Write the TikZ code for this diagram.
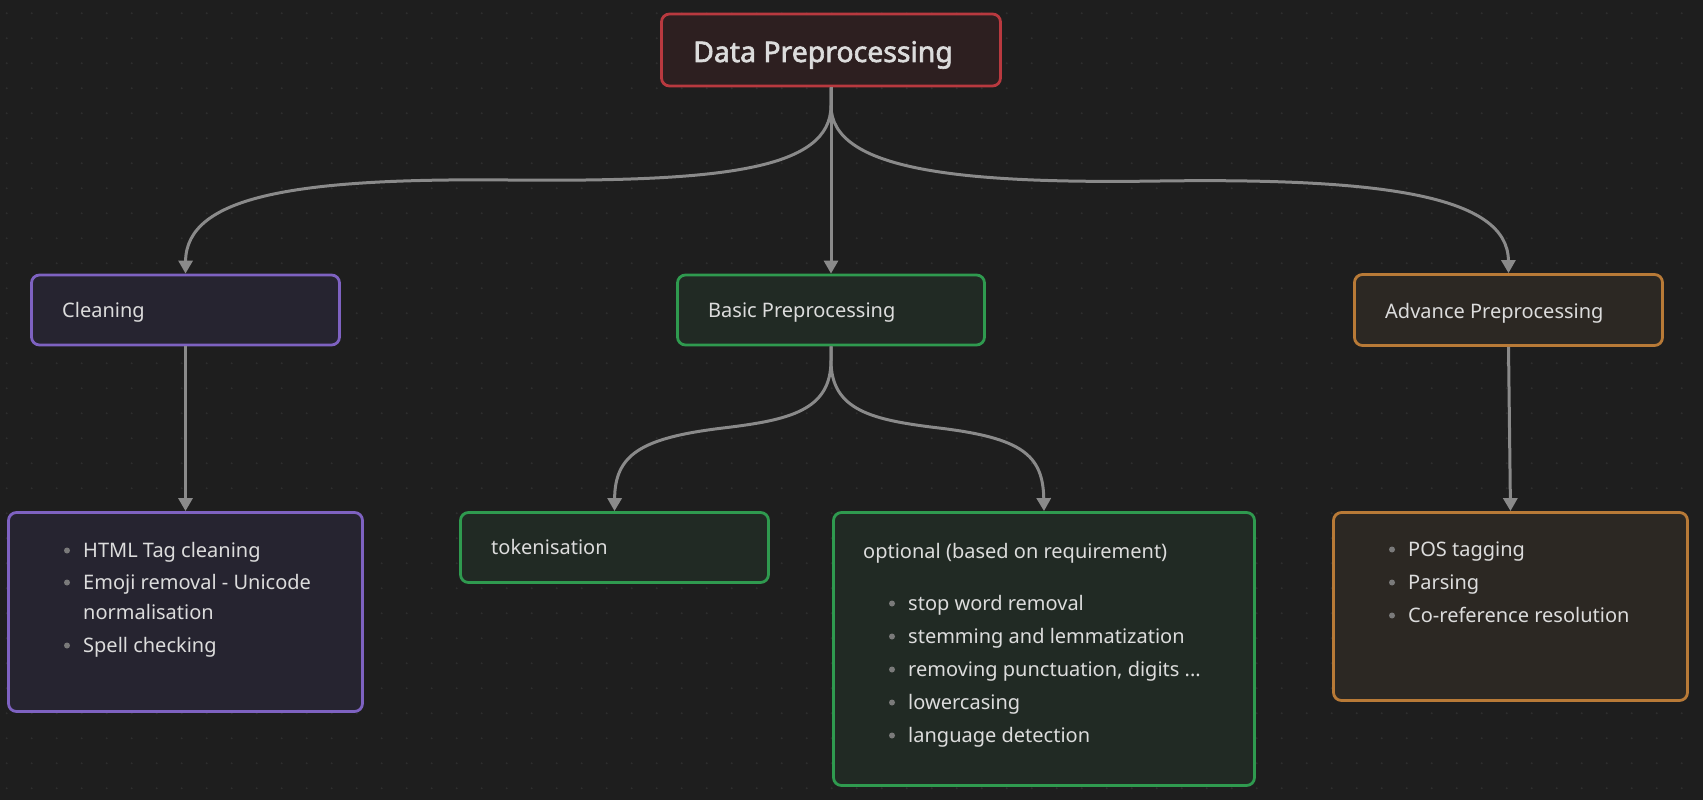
\documentclass[tikz,border=0pt]{standalone}
\usepackage{fontspec}
\setmainfont{Noto Sans}[AutoFakeBold=2.2]
\usetikzlibrary{arrows.meta}
\definecolor{bg}{HTML}{1E1E1E}
\definecolor{dotc}{HTML}{2E2E2E}
\definecolor{txtc}{HTML}{DCDCDC}
\definecolor{edgec}{HTML}{8A8A8A}
\definecolor{bulc}{HTML}{7A7A7A}
\definecolor{redS}{HTML}{B8393F}\definecolor{redF}{HTML}{2D1F20}
\definecolor{purS}{HTML}{7E62C1}\definecolor{purF}{HTML}{262430}
\definecolor{grnS}{HTML}{2F9A4F}\definecolor{grnF}{HTML}{212A24}
\definecolor{orgS}{HTML}{B87A37}\definecolor{orgF}{HTML}{2C2823}
\tikzset{
  box/.style 2 args={draw=#1, fill=#2, rounded corners=8pt, line width=2.8pt, inner sep=0pt},
  txt/.style={text=txtc, inner sep=0pt, anchor=base west, font=\fontsize{20}{24}\selectfont},
  title/.style={text=txtc, inner sep=0pt, anchor=base west, font=\fontsize{28.4}{33}\selectfont\bfseries},
  edge/.style={draw=edgec, line width=3pt, -{Triangle[width=14pt,length=13pt]}},
  bul/.style={fill=bulc, circle, inner sep=0pt, minimum size=6pt}
}
\newcommand{\bitem}[4]{%
  \node[bul] (#1b) at (#2-16,#3-6.5) {};
  \node[txt] (#1) at (#2,#3) {#4};}
\begin{document}
\begin{tikzpicture}[x=1pt,y=-1pt]
\fill[bg] (0,0) rectangle (1703,800);
\useasboundingbox (0,0) rectangle (1703,800);
\foreach \i in {0,...,67}{\foreach \j in {0,...,31}{\fill[dotc] (6.7+25*\i,13.3+25*\j) circle (1.1);}}
% boxes
\node[box={redS}{redF}, minimum width=339, minimum height=72] (dp) at (831,50) {};
\node[box={purS}{purF}, minimum width=308, minimum height=70] (cl) at (185.5,310) {};
\node[box={grnS}{grnF}, minimum width=307, minimum height=70] (bp) at (831,310) {};
\node[box={orgS}{orgF}, minimum width=308, minimum height=71] (ap) at (1508.5,310) {};
\node[box={purS}{purF}, minimum width=354, minimum height=199] (cll) at (185.5,612) {};
\node[box={grnS}{grnF}, minimum width=308, minimum height=70] (tok) at (614.5,547.5) {};
\node[box={grnS}{grnF}, minimum width=421, minimum height=273] (opt) at (1044,649) {};
\node[box={orgS}{orgF}, minimum width=354, minimum height=188] (pos) at (1510.5,606.5) {};
% texts
\node[title] (tdp) at (693,62) {Data Preprocessing};
\node[txt] (tcl) at (62,317) {Cleaning};
\node[txt] (tbp) at (708,317) {Basic Preprocessing};
\node[txt] (tap) at (1385,318) {Advance Preprocessing};
\node[txt] (ttok) at (491,554) {tokenisation};
\node[txt] (topt) at (863,558) {optional (based on requirement)};
\bitem{c1}{83}{557}{HTML Tag cleaning}
\bitem{c2}{83}{589}{Emoji removal - Unicode}
\node[txt] (c2b) at (83,619) {normalisation};
\bitem{c3}{83}{652}{Spell checking}
\bitem{o1}{908}{610}{stop word removal}
\bitem{o2}{908}{643}{stemming and lemmatization}
\bitem{o3}{908}{676}{removing punctuation, digits ...}
\bitem{o4}{908}{709}{lowercasing}
\bitem{o5}{908}{742}{language detection}
\bitem{p1}{1408}{556}{POS tagging}
\bitem{p2}{1408}{589}{Parsing}
\bitem{p3}{1408}{622}{Co-reference resolution}
% edges
\draw[edge] (dp.south) -- ++(0,18) .. controls +(0,65) and (720,182) .. (508,180) .. controls (300,178) and (186,195) .. (cl.north);
\draw[edge] (dp.south) -- (bp.north);
\draw[edge] (dp.south) -- ++(0,18) .. controls +(0,65) and (960,184) .. (1160,181) .. controls (1380,178) and (1508,195) .. (ap.north);
\draw[edge] (cl.south) -- (cll.north);
\draw[edge] (ap.south) -- (pos.north);
\draw[edge] (bp.south) -- ++(0,14) .. controls +(0,50) and (790,420) .. (723,428) .. controls (640,438) and (615,455) .. (tok.north);
\draw[edge] (bp.south) -- ++(0,14) .. controls +(0,50) and (872,420) .. (939,428) .. controls (1022,438) and (1043,455) .. (opt.north);
\end{tikzpicture}
\end{document}
